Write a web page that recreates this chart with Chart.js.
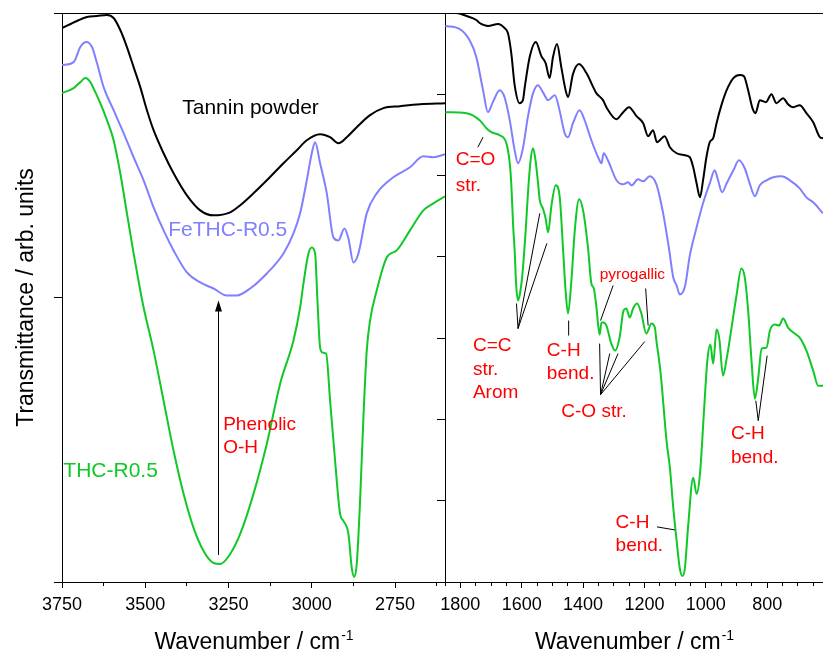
<!DOCTYPE html>
<html>
<head>
<meta charset="utf-8">
<title>FTIR spectra</title>
<script src="https://cdn.jsdelivr.net/npm/chart.js@4.4.1/dist/chart.umd.min.js"></script>
<style>
  html, body { margin: 0; padding: 0; background: #fff; }
  #wrap { position: relative; width: 823px; height: 657px; overflow: hidden; }
  #wrap canvas { position: absolute; top: 0; }
  #left { left: 0; }
  #right { left: 430px; }
</style>
</head>
<body>
<div id="wrap">
  <canvas id="left" width="450" height="657"></canvas>
  <canvas id="right" width="393" height="657"></canvas>
</div>
<script>
const FONT = "'Liberation Sans', Arial, sans-serif";
const BLACK = '#000000';
const BLUE = '#8080ff';
const GREEN = '#10c828';
const RED = '#ff0000';

// wavenumber windows (cm-1)
const highRange = [2600, 3750];
const lowRange = [618, 1850];
const highTicks = [3750, 3625, 3500, 3375, 3250, 3125, 3000, 2875, 2750, 2625];
const highLabels = [3750, 3500, 3250, 3000, 2750];
const lowTicks = [1850, 1800, 1750, 1700, 1650, 1600, 1550, 1500, 1450, 1400, 1350, 1300,
  1250, 1200, 1150, 1100, 1050, 1000, 950, 900, 850, 800, 750, 700, 650];
const lowLabels = [1800, 1600, 1400, 1200, 1000, 800];

// transmittance, arbitrary units
const yRange = [0, 568];
const highYTicks = [0, 284, 568];
const lowYTicks = [0, 81.14, 162.29, 243.43, 324.57, 405.71, 486.86, 568];

// [wavenumber, transmittance]
const tanninHigh = [[3750,553],[3705,560],[3675,564],[3645,565],[3615,566],[3595,563],[3575,551],
  [3555,534],[3535,514],[3515,494],[3495,471],[3475,451],[3445,428],[3415,408],[3375,386],
  [3335,371],[3295,366],[3245,369],[3215,376],[3175,388],[3135,401],[3085,418],[3045,431],
  [3015,441],[2975,447],[2945,444],[2920,438],[2895,444],[2865,454],[2825,466],[2785,473],
  [2735,475],[2675,477],[2600,478]];

const feHigh = [[3750,516],[3715,519],[3695,534],[3677,539],[3660,534],[3645,518],[3625,494],
  [3595,471],[3565,448],[3535,424],[3505,401],[3475,374],[3445,351],[3415,331],[3375,309],
  [3335,299],[3295,293],[3255,286],[3225,286],[3185,293],[3135,308],[3085,328],[3055,348],
  [3035,368],[3015,401],[3000,428],[2990,439],[2975,418],[2955,388],[2935,344],[2920,341],
  [2902,353],[2890,343],[2875,319],[2860,328],[2835,368],[2805,388],[2755,404],[2705,414],
  [2665,425],[2635,424],[2600,427]];

const thcHigh = [[3750,488],[3715,493],[3695,499],[3680,503],[3665,499],[3650,489],[3635,478],
  [3615,461],[3595,441],[3575,408],[3555,368],[3535,328],[3515,291],[3503,271],[3475,231],
  [3445,181],[3415,131],[3385,88],[3355,54],[3325,31],[3295,19],[3275,18],[3245,28],
  [3215,48],[3175,88],[3135,138],[3095,198],[3055,241],[3035,274],[3025,298],[3010,328],
  [3000,334],[2990,328],[2983,281],[2975,234],[2967,229],[2957,228],[2945,181],[2930,121],
  [2915,68],[2905,61],[2890,48],[2880,14],[2873,5],[2865,18],[2855,81],[2845,164],
  [2835,231],[2825,261],[2805,291],[2775,324],[2745,331],[2705,351],[2665,371],[2635,378],
  [2600,385]];

const tanninLow = [[1849,568],[1813,568],[1780,565],[1748,561],[1737,558],[1710,555],[1677,557],
  [1656,553],[1645,548],[1634,528],[1623,496],[1607,478],[1596,481],[1590,494],[1574,524],
  [1554,539],[1536,525],[1522,518],[1509,503],[1498,524],[1485,537],[1471,514],[1457,491],
  [1449,484],[1433,507],[1413,517],[1389,508],[1367,494],[1357,488],[1335,481],[1324,474],
  [1291,462],[1272,468],[1250,474],[1226,465],[1204,458],[1188,445],[1172,451],[1159,439],
  [1134,445],[1117,434],[1095,428],[1068,426],[1052,424],[1041,414],[1030,398],[1019,384],
  [1009,401],[998,424],[987,439],[976,443],[965,458],[949,476],[932,491],[910,503],
  [889,506],[876,505],[862,491],[848,473],[838,468],[824,481],[804,479],[786,487],
  [770,478],[748,483],[732,477],[715,474],[694,476],[672,468],[650,459],[628,444],[618,443]];

const feLow = [[1849,555],[1802,552],[1770,541],[1748,524],[1726,491],[1710,469],[1694,479],
  [1672,491],[1656,484],[1639,461],[1623,431],[1612,418],[1596,433],[1580,464],[1563,488],
  [1547,496],[1531,489],[1514,481],[1492,486],[1476,470],[1460,448],[1449,444],[1433,458],
  [1411,471],[1395,461],[1373,441],[1351,424],[1340,418],[1333,428],[1319,421],[1291,401],
  [1270,397],[1253,399],[1242,396],[1221,402],[1204,400],[1183,405],[1161,397],[1139,368],
  [1120,333],[1106,304],[1095,296],[1085,287],[1068,295],[1052,326],[1030,354],[1009,378],
  [987,398],[971,411],[960,401],[947,389],[932,398],[910,411],[892,421],[873,413],
  [857,398],[840,385],[824,396],[802,401],[780,404],[753,405],[726,401],[694,393],
  [672,384],[650,379],[618,368]];

const thcLow = [[1849,469],[1780,468],[1737,461],[1715,453],[1699,449],[1672,446],[1650,438],
  [1639,418],[1634,398],[1628,356],[1623,331],[1618,296],[1612,281],[1605,289],[1598,306],
  [1587,351],[1579,391],[1571,421],[1563,433],[1555,421],[1547,399],[1541,381],[1531,373],
  [1522,363],[1514,349],[1503,376],[1489,396],[1476,384],[1465,331],[1457,291],[1449,268],
  [1438,301],[1427,351],[1413,382],[1400,371],[1384,334],[1373,298],[1365,293],[1357,276],
  [1346,247],[1340,259],[1335,259],[1324,256],[1308,238],[1295,231],[1281,244],[1268,271],
  [1259,273],[1248,264],[1237,273],[1224,278],[1210,268],[1194,248],[1177,258],[1166,254],
  [1161,241],[1150,216],[1144,198],[1128,141],[1117,114],[1106,74],[1095,41],[1085,14],
  [1076,6],[1068,14],[1058,54],[1041,104],[1030,88],[1019,108],[1005,175],[995,221],
  [985,237],[976,218],[965,252],[956,243],[944,206],[932,223],[916,254],[900,286],
  [884,313],[873,304],[862,271],[851,221],[840,183],[829,204],[818,233],[802,234],
  [791,251],[775,257],[761,256],[748,263],[732,254],[710,248],[694,244],[672,231],
  [650,211],[634,196],[618,196]];

// band assignments: text anchored at (wavenumber, transmittance), left aligned
const highNotes = {
  texts: [
    { wn: 3389, t: 473, text: 'Tannin powder', color: BLACK, size: 21 },
    { wn: 3431, t: 351, text: 'FeTHC-R0.5', color: BLUE, size: 21 },
    { wn: 3746, t: 111, text: 'THC-R0.5', color: GREEN, size: 21 },
    { wn: 3266, t: 157, text: 'Phenolic', color: RED, size: 19 },
    { wn: 3266, t: 134, text: 'O-H', color: RED, size: 19 }
  ],
  lines: [],
  arrows: [{ wn: 3283, from: 27, to: 281 }]
};

const lowNotes = {
  texts: [
    { wn: 1815, t: 421, text: 'C=O', color: RED, size: 19 },
    { wn: 1815, t: 396, text: 'str.', color: RED, size: 19 },
    { wn: 1759, t: 236, text: 'C=C', color: RED, size: 19 },
    { wn: 1759, t: 212, text: 'str.', color: RED, size: 19 },
    { wn: 1759, t: 189, text: 'Arom', color: RED, size: 19 },
    { wn: 1518, t: 231, text: 'C-H', color: RED, size: 19 },
    { wn: 1518, t: 208, text: 'bend.', color: RED, size: 19 },
    { wn: 1346, t: 307, text: 'pyrogallic', color: RED, size: 15.5 },
    { wn: 1471, t: 170, text: 'C-O str.', color: RED, size: 19 },
    { wn: 1294, t: 59, text: 'C-H', color: RED, size: 19 },
    { wn: 1294, t: 36, text: 'bend.', color: RED, size: 19 },
    { wn: 918, t: 148, text: 'C-H', color: RED, size: 19 },
    { wn: 918, t: 124, text: 'bend.', color: RED, size: 19 }
  ],
  lines: [
    [1743, 434, 1726, 444],
    [1612, 253, 1617, 278], [1612, 253, 1541, 368], [1612, 253, 1518, 338],
    [1447, 246, 1447, 261],
    [1302, 296, 1343, 261], [1196, 293, 1188, 256],
    [1343, 187, 1346, 238], [1343, 187, 1313, 228], [1343, 187, 1286, 228], [1343, 187, 1199, 240],
    [1159, 55, 1101, 52],
    [829, 161, 837, 181], [829, 161, 800, 226]
  ],
  arrows: []
};

function spectrum(label, pairs, color) {
  return {
    label,
    data: pairs.map(([x, y]) => ({ x, y })),
    borderColor: color,
    borderWidth: 2,
    pointRadius: 0,
    fill: false,
    cubicInterpolationMode: 'monotone'
  };
}

function notesPlugin(notes) {
  return {
    id: 'notes',
    afterDatasetsDraw(chart) {
      const { ctx } = chart;
      const x = chart.scales.x, y = chart.scales.y;
      ctx.save();
      ctx.strokeStyle = BLACK;
      ctx.fillStyle = BLACK;
      ctx.lineWidth = 1;
      notes.lines.forEach(([w1, t1, w2, t2]) => {
        ctx.beginPath();
        ctx.moveTo(x.getPixelForValue(w1), y.getPixelForValue(t1));
        ctx.lineTo(x.getPixelForValue(w2), y.getPixelForValue(t2));
        ctx.stroke();
      });
      notes.arrows.forEach(a => {
        const px = Math.round(x.getPixelForValue(a.wn)) + 0.5;
        const tip = y.getPixelForValue(a.to);
        ctx.beginPath();
        ctx.moveTo(px, y.getPixelForValue(a.from));
        ctx.lineTo(px, tip + 8);
        ctx.stroke();
        ctx.beginPath();
        ctx.moveTo(px, tip);
        ctx.lineTo(px - 3.5, tip + 11);
        ctx.lineTo(px + 3.5, tip + 11);
        ctx.closePath();
        ctx.fill();
      });
      ctx.textAlign = 'left';
      ctx.textBaseline = 'middle';
      notes.texts.forEach(n => {
        ctx.font = `${n.size}px ${FONT}`;
        ctx.fillStyle = n.color;
        ctx.fillText(n.text, x.getPixelForValue(n.wn), y.getPixelForValue(n.t));
      });
      ctx.restore();
    }
  };
}

// axis titles with a raised exponent
function titlesPlugin(withYTitle) {
  return {
    id: 'titles',
    afterDraw(chart) {
      const { ctx, chartArea } = chart;
      ctx.save();
      ctx.fillStyle = BLACK;
      ctx.textBaseline = 'alphabetic';
      ctx.textAlign = 'left';
      const main = 'Wavenumber / cm', sup = '-1';
      ctx.font = `23px ${FONT}`;
      const wMain = ctx.measureText(main).width;
      ctx.font = `14px ${FONT}`;
      const wSup = ctx.measureText(sup).width;
      const x0 = (chartArea.left + chartArea.right) / 2 - (wMain + wSup) / 2;
      ctx.font = `23px ${FONT}`;
      ctx.fillText(main, x0, 649);
      ctx.font = `14px ${FONT}`;
      ctx.fillText(sup, x0 + wMain + 1, 640);
      if (withYTitle) {
        ctx.translate(33, (chartArea.top + chartArea.bottom) / 2);
        ctx.rotate(-Math.PI / 2);
        ctx.textAlign = 'center';
        ctx.font = `23px ${FONT}`;
        ctx.fillText('Transmittance / arb. units', 0, 0);
      }
      ctx.restore();
    }
  };
}

function buildChart(id, opt) {
  const xTicks = opt.xTicks, xLabels = opt.xLabels;
  const scales = {
    x: {
      type: 'linear', position: 'bottom', reverse: true,
      min: opt.range[0], max: opt.range[1],
      afterBuildTicks: s => { s.ticks = xTicks.map(v => ({ value: v })); },
      afterFit: s => { s.height = 75; },
      grid: {
        drawOnChartArea: false, tickLength: 6, color: BLACK, tickColor: BLACK,
        tickBorderDash: c => (c.tick && !xLabels.includes(c.tick.value)) ? [3, 20] : []
      },
      border: { color: BLACK, width: 1 },
      ticks: {
        color: BLACK, padding: 6, maxRotation: 0, autoSkip: false,
        font: { family: FONT, size: 18 },
        callback: v => xLabels.includes(v) ? String(v) : ''
      }
    },
    xTop: {
      type: 'linear', position: 'top', reverse: true,
      min: opt.range[0], max: opt.range[1],
      afterFit: s => { s.height = 0; },
      grid: { display: false },
      border: { color: BLACK, width: 1 },
      ticks: { display: false }
    },
    y: {
      type: 'linear', position: 'left', min: yRange[0], max: yRange[1],
      afterBuildTicks: s => { s.ticks = opt.yTicks.map(v => ({ value: v })); },
      afterFit: s => { s.width = opt.yWidth; },
      grid: { drawOnChartArea: false, tickLength: 8, color: BLACK, tickColor: BLACK },
      border: { color: BLACK, width: 1 },
      ticks: { display: false }
    }
  };
  if (opt.rightBorder) {
    scales.yRight = {
      type: 'linear', position: 'right', min: yRange[0], max: yRange[1],
      afterFit: s => { s.width = 0; },
      grid: { display: false },
      border: { color: BLACK, width: 1 },
      ticks: { display: false }
    };
  }
  return new Chart(document.getElementById(id), {
    type: 'line',
    data: { datasets: opt.datasets },
    options: {
      responsive: false,
      animation: false,
      devicePixelRatio: 1,
      layout: { padding: opt.padding },
      plugins: { legend: { display: false }, tooltip: { enabled: false } },
      scales
    },
    plugins: [notesPlugin(opt.notes), titlesPlugin(opt.yTitle)]
  });
}

buildChart('left', {
  range: highRange, xTicks: highTicks, xLabels: highLabels, yTicks: highYTicks,
  yWidth: 62, padding: { top: 13, right: 5, bottom: 0, left: 0 },
  rightBorder: true, yTitle: true, notes: highNotes,
  datasets: [
    spectrum('Tannin powder', tanninHigh, BLACK),
    spectrum('FeTHC-R0.5', feHigh, BLUE),
    spectrum('THC-R0.5', thcHigh, GREEN)
  ]
});

buildChart('right', {
  range: lowRange, xTicks: lowTicks, xLabels: lowLabels, yTicks: lowYTicks,
  yWidth: 15, padding: { top: 13, right: 0, bottom: 0, left: 0 },
  rightBorder: false, yTitle: false, notes: lowNotes,
  datasets: [
    spectrum('Tannin powder', tanninLow, BLACK),
    spectrum('FeTHC-R0.5', feLow, BLUE),
    spectrum('THC-R0.5', thcLow, GREEN)
  ]
});
</script>
</body>
</html>
